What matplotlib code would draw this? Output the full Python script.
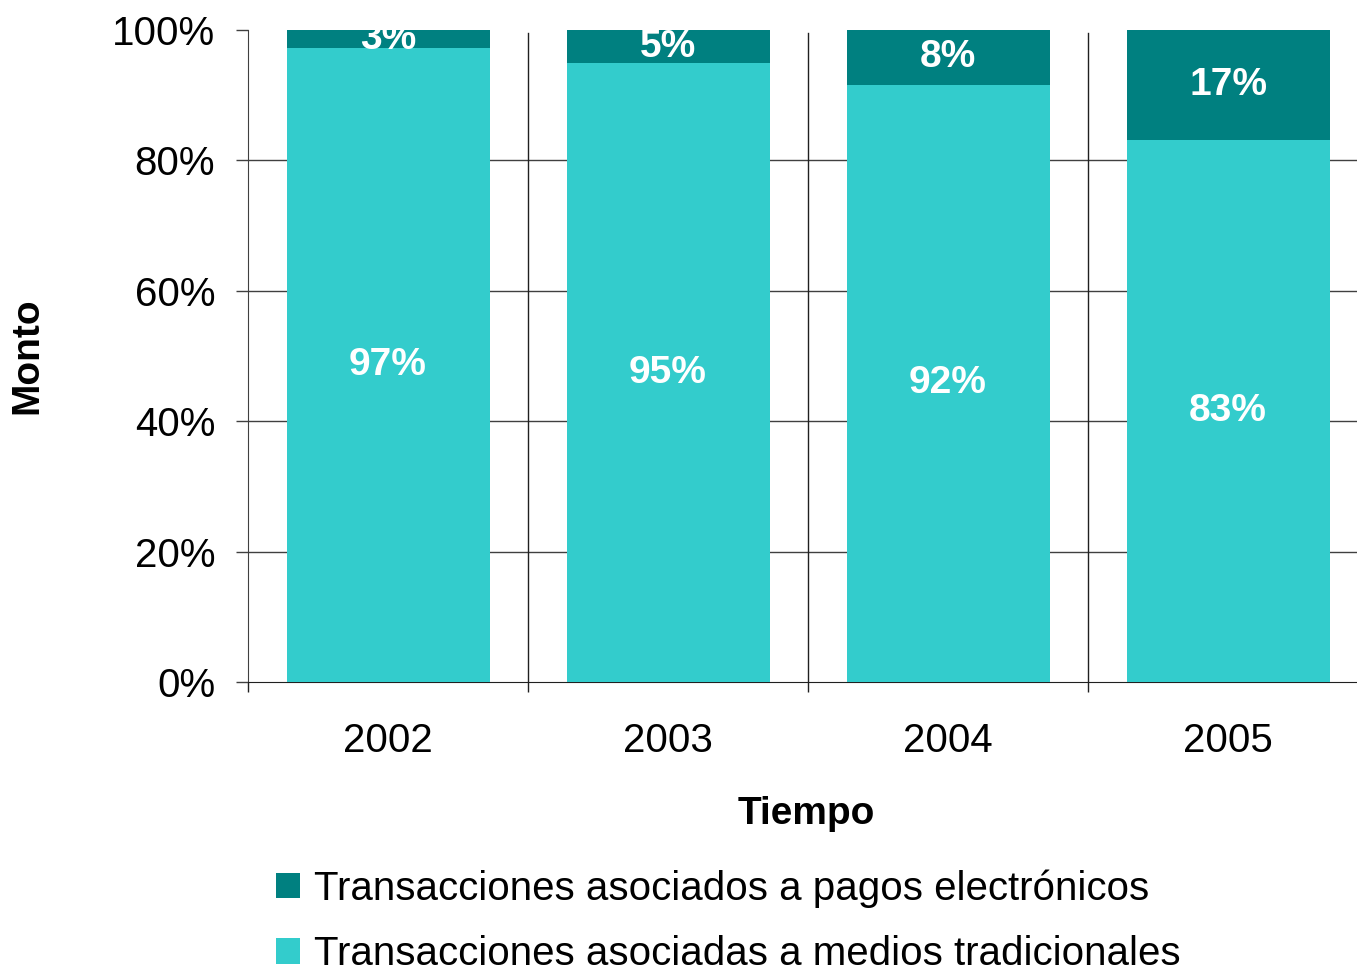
import numpy as np
import matplotlib
matplotlib.use("Agg")
import matplotlib.pyplot as plt

plt.rcParams['font.family'] = ['Liberation Sans', 'DejaVu Sans']

years = ["2002", "2003", "2004", "2005"]
tradicionales = [97.2, 94.9, 91.6, 83.1]
electronicos = [2.8, 5.1, 8.4, 16.9]
tick_labels = ["0%", "20%", "40%", "60%", "80%", "100%"]

c_trad = "#33CCCC"
c_elec = "#008080"

fig = plt.figure(figsize=(13.57, 9.72), dpi=100)
ax = fig.add_axes([248 / 1357, 1 - 682 / 972, 1120 / 1357, 652 / 972])

x = np.arange(len(years))
w = 0.725
b1 = ax.bar(x, tradicionales, w, color=c_trad, zorder=3,
            label="Transacciones asociadas a medios tradicionales")
b2 = ax.bar(x, electronicos, w, bottom=tradicionales, color=c_elec, zorder=3,
            label="Transacciones asociados a pagos electrónicos")

ax.bar_label(b1, labels=[f"{v:.0f}%" for v in tradicionales], label_type="center",
             color="white", fontsize=28, fontweight="bold")
ax.bar_label(b2, labels=[f"{v:.0f}%" for v in electronicos], label_type="center",
             color="white", fontsize=28, fontweight="bold")

ax.set_xlim(-0.5, len(years) - 0.5)
ax.set_ylim(0, 100)

# eje y
ax.set_yticks(np.arange(0, 101, 20))
ax.set_yticklabels(tick_labels, fontsize=29)
ax.tick_params(axis="y", length=8.6, width=1, pad=15, color="#404040")
for yv in np.arange(20, 100, 20):
    ax.axhline(yv, color="#404040", lw=1, zorder=1)

# eje x: etiquetas al centro, marcas en los limites de cada categoria
ax.set_xticks(x)
ax.set_xticklabels(years, fontsize=29)
ax.tick_params(axis="x", which="major", length=0, pad=29)
ax.set_xticks(np.arange(-0.5, len(years) - 0.5, 1.0), minor=True)
ax.tick_params(axis="x", which="minor", length=7.5, width=1, color="#202020")
for xv in np.arange(0.5, len(years) - 0.5, 1.0):
    ax.axvline(xv, ymax=0.995, color="#202020", lw=1, zorder=1)

for s in ["top", "right"]:
    ax.spines[s].set_visible(False)
ax.spines["left"].set_color("#404040")
ax.spines["bottom"].set_color("#202020")

ax.set_ylabel("Monto", fontsize=28, fontweight="bold")
ax.yaxis.set_label_coords(-0.181, 0.5)
ax.set_xlabel("Tiempo", fontsize=28, fontweight="bold")
ax.xaxis.set_label_coords((806 - 248) / 1120, -0.175)

handles = [b2, b1]
fig.legend(handles, [h.get_label() for h in handles], loc="upper left",
           bbox_to_anchor=(256 / 1357, 1 - 849 / 972), frameon=False,
           fontsize=29, handlelength=0.6, handleheight=0.6, handletextpad=0.35,
           labelspacing=0.68, borderpad=0.0)

fig.savefig("out.png", dpi=100)
